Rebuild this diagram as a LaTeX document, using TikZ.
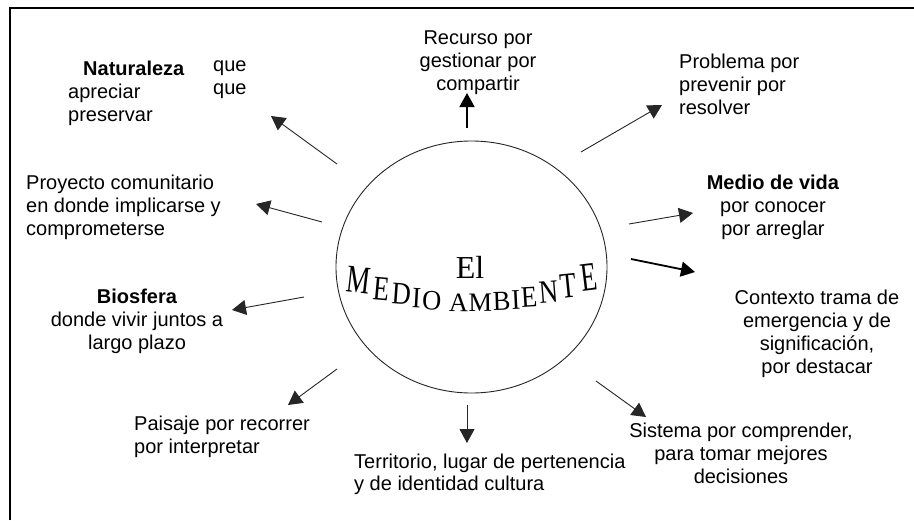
\documentclass[tikz,border=0pt]{standalone}
\usepackage{fontspec}
\setmainfont{Liberation Sans}
\newfontfamily\serifont{Liberation Serif}
\usetikzlibrary{arrows.meta,shapes.geometric}
\tikzset{
  lbl/.style={font=\fontsize{20}{23}\selectfont, inner sep=0pt, align=left, text=black},
  arr/.style={line width=0.9pt, draw=black!85, -{Triangle[length=14pt,width=15pt]}},
  arrb/.style={line width=1.8pt, draw=black, -{Triangle[length=14pt,width=15pt]}},
  frame/.style={line width=2pt, draw=black},
  arch/.style={anchor=base, inner sep=0pt, font=\serifont\fontsize{26.5}{29}\selectfont},
}
\begin{document}
\begin{tikzpicture}[x=1pt,y=-1pt]
\useasboundingbox (0,0) rectangle (914,520);
\fill[white] (0,0) rectangle (914,520);
\draw[frame] (9.5,520) -- (9.5,8) -- (914,8);

% central ellipse
\node[draw=black!85, line width=0.9pt, ellipse, minimum width=271pt, minimum height=252pt, inner sep=0pt] (env) at (471.5,267) {};
\node[inner sep=0pt, font=\serifont\fontsize{32}{34}\selectfont] (el) at (470,267) {El};
% arched title, letter by letter
\foreach \ch/\cx [count=\i] in {M/357.5, E/381.0, D/400.7, I/416.1, O/431.4, A/458.5, M/480.5, B/502.0, I/516.3, E/529.8, N/549.5, T/569.2, E/590.5} {
  \pgfmathsetmacro\sc{1+0.45*((\cx-471)/110)^2}
  \pgfmathsetmacro\by{312-0.00149*(\cx-471)^2}
  \pgfmathsetmacro\rot{-0.35*atan(2*0.00149*(471-\cx))}
  \node[arch, rotate=\rot] (m\i) at (\cx,\by) {\scalebox{1}[\sc]{\ch}};
}

% labels
\node[lbl, anchor=north west] (nat) at (68,61) {\hspace*{15pt}\textbf{Naturaleza}\\apreciar\\preservar};
\node[lbl, anchor=north west] (que) at (213,61) {que\\que};
\node[lbl, anchor=north, align=center] (rec) at (478,31) {Recurso por\\gestionar por\\compartir};
\node[lbl, anchor=north west] (pro) at (679,54) {Problema por\\prevenir por\\resolver};
\node[lbl, anchor=north west] (proy) at (26,175) {Proyecto comunitario\\en donde implicarse y\\comprometerse};
\node[lbl, anchor=north, align=center] (med) at (773,175) {\textbf{Medio de vida}\\por conocer\\por arreglar};
\node[lbl, anchor=north, align=center] (con) at (817,290) {Contexto trama de\\emergencia y de\\significación,\\por destacar};
\node[lbl, anchor=north, align=center] (bio) at (137,289) {\textbf{Biosfera}\\donde vivir juntos a\\largo plazo};
\node[lbl, anchor=north west] (pai) at (134,416) {Paisaje por recorrer\\por interpretar};
\node[lbl, anchor=north west, font=\fontsize{20}{21.5}\selectfont] (ter) at (354,454) {Territorio, lugar de pertenencia\\y de identidad cultura};
\node[lbl, anchor=north, align=center] (sis) at (741,423) {Sistema por comprender,\\para tomar mejores\\decisiones};

% arrow end points
\coordinate (t1) at (337,164);  \coordinate (h1) at (271,116);
\coordinate (t2) at (322,222);  \coordinate (h2) at (256,204);
\coordinate (t3) at (304,297);  \coordinate (h3) at (232,310);
\coordinate (t4) at (337,369);  \coordinate (h4) at (288,405);
\coordinate (t5) at (467,405);  \coordinate (h5) at (467,443);
\coordinate (t6) at (596,381);  \coordinate (h6) at (646,417);
\coordinate (t7) at (631,259);  \coordinate (h7) at (695,272);
\coordinate (t8) at (629,224);  \coordinate (h8) at (693,213);
\coordinate (t9) at (581,152);  \coordinate (h9) at (662,105);
\coordinate (t10) at (467,128); \coordinate (h10) at (467,93);

\draw[arr] (t1) -- (h1);
\draw[arr] (t2) -- (h2);
\draw[arr] (t3) -- (h3);
\draw[arr] (t4) -- (h4);
\draw[arr] (t5) -- (h5);
\draw[arr] (t6) -- (h6);
\draw[arrb] (t7) -- (h7);
\draw[arr] (t8) -- (h8);
\draw[arr] (t9) -- (h9);
\draw[arrb] (t10) -- (h10);
\end{tikzpicture}
\end{document}
